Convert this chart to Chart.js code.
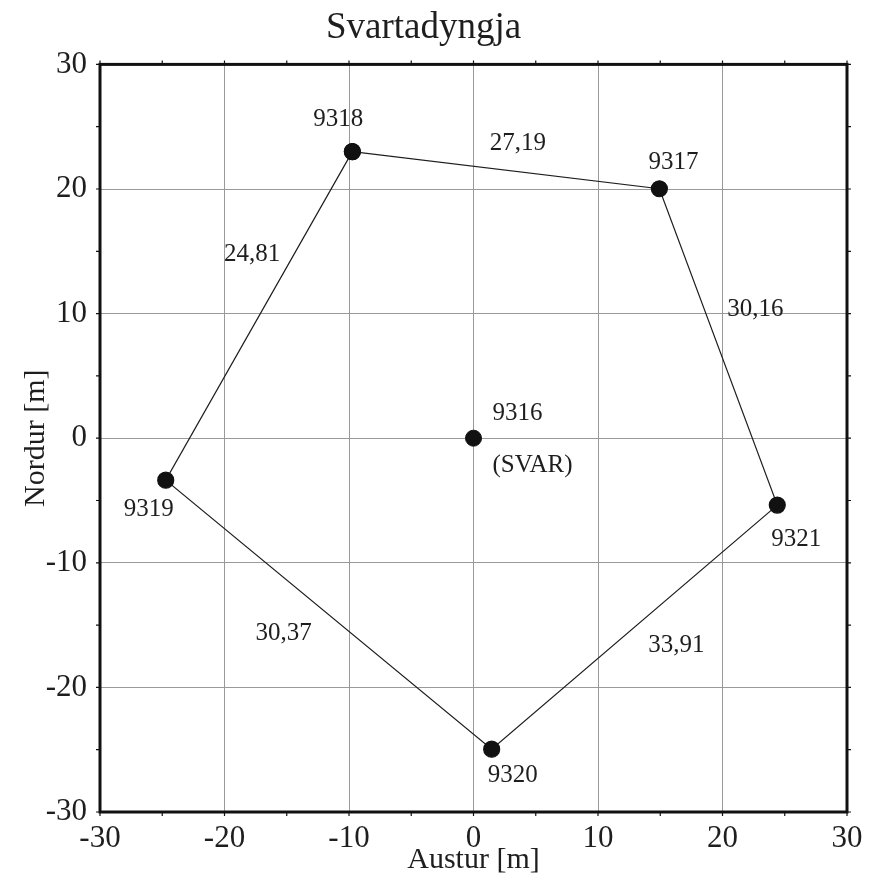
<!DOCTYPE html>
<html lang="is">
<head>
<meta charset="UTF-8">
<title>Svartadyngja</title>
<script src="https://cdn.jsdelivr.net/npm/chart.js"></script>
<style>body{margin:0;background:#fff}</style>
</head>
<body>
<div style="width:876px;height:880px;">
  <canvas id="chart" width="876" height="880"></canvas>
</div>
<script>
// stations, east / north in metres
const stations = ['9316', '9317', '9318', '9319', '9320', '9321'];
const east  = [0, 14.93, -9.73, -24.72, 1.46, 24.4];
const north = [0, 20.02, 23.0, -3.37, -24.96, -5.37];
// the ring around the centre point, closed
const ring = ['9318', '9317', '9321', '9320', '9319', '9318'];
// side lengths, in the same order as the ring
const sides = ['27,19', '30,16', '33,91', '30,37', '24,81'];
const centreName = '(SVAR)';

const pt = id => { const i = stations.indexOf(id); return {x: east[i], y: north[i]}; };

const serif = '"Liberation Serif", "DejaVu Serif", serif';
const ink = '#1e1e1e';

// pixel offsets of the text from its point / side midpoint
const nameOffset = {
    '9316': [19, -25, 'left'],
    '9317': [14, -26, 'center'],
    '9318': [-14, -32, 'center'],
    '9319': [-17, 29, 'center'],
    '9320': [21, 26, 'center'],
    '9321': [19, 34, 'center']
};
const sideOffset = [[12, -27], [37, -37], [42, 18], [-45, 19], [-7, -61]];

const labelPlugin = {
    id: 'labels',
    afterDatasetsDraw(chart) {
        const {ctx, scales: {x, y}} = chart;
        ctx.save();
        ctx.fillStyle = ink;
        ctx.font = '25px ' + serif;
        ctx.textBaseline = 'middle';
        stations.forEach((s, i) => {
            const [dx, dy, al] = nameOffset[s];
            ctx.textAlign = al;
            const px = x.getPixelForValue(east[i]), py = y.getPixelForValue(north[i]);
            ctx.fillText(s, px + dx, py + dy);
            if (i === 0) ctx.fillText(centreName, px + dx, py + 27);
        });
        ctx.textAlign = 'center';
        sides.forEach((txt, i) => {
            const a = pt(ring[i]), b = pt(ring[i + 1]);
            const mx = (x.getPixelForValue(a.x) + x.getPixelForValue(b.x)) / 2;
            const my = (y.getPixelForValue(a.y) + y.getPixelForValue(b.y)) / 2;
            ctx.fillText(txt, mx + sideOffset[i][0], my + sideOffset[i][1]);
        });
        ctx.restore();
    }
};

// heavy frame with small outward ticks every 5 m
const framePlugin = {
    id: 'frame',
    beforeDatasetsDraw(chart) {
        const {ctx, chartArea: a, scales: {x, y}} = chart;
        ctx.save();
        ctx.strokeStyle = '#111';
        ctx.lineWidth = 1.2;
        ctx.beginPath();
        for (let v = -30; v <= 30; v += 5) {
            const px = x.getPixelForValue(v), py = y.getPixelForValue(v);
            ctx.moveTo(px, a.top); ctx.lineTo(px, a.top - 4);
            ctx.moveTo(px, a.bottom); ctx.lineTo(px, a.bottom + 4);
            ctx.moveTo(a.left, py); ctx.lineTo(a.left - 4, py);
            ctx.moveTo(a.right, py); ctx.lineTo(a.right + 4, py);
        }
        ctx.stroke();
        ctx.lineWidth = 3;
        ctx.strokeRect(a.left, a.top, a.right - a.left, a.bottom - a.top);
        ctx.restore();
    }
};

const ctx = document.getElementById('chart').getContext('2d');
new Chart(ctx, {
    type: 'scatter',
    data: {
        datasets: [{
            data: ring.map(pt),
            showLine: true,
            borderColor: ink,
            borderWidth: 1.2,
            pointRadius: 8,
            pointBackgroundColor: '#111',
            pointBorderColor: '#111'
        }, {
            data: [pt('9316')],
            pointRadius: 8,
            pointBackgroundColor: '#111',
            pointBorderColor: '#111'
        }]
    },
    options: {
        responsive: false,
        animation: false,
        layout: { padding: { left: 0, right: 29, top: 0, bottom: 0 } },
        plugins: {
            legend: { display: false },
            tooltip: { enabled: false },
            title: {
                display: true,
                text: 'Svartadyngja',
                color: ink,
                font: { family: serif, size: 37, weight: 'normal' },
                padding: { top: 6, bottom: 14 }
            }
        },
        scales: {
            x: {
                type: 'linear',
                min: -30, max: 30,
                ticks: { stepSize: 10, padding: 8, color: ink, font: { family: serif, size: 31 } },
                grid: { color: '#9a9a9a', lineWidth: 1, drawTicks: false },
                border: { display: false },
                title: {
                    display: true, text: 'Austur [m]', color: ink,
                    font: { family: serif, size: 30 },
                    padding: { top: 0, bottom: 2 }
                },
                afterFit: s => { s.height = 68; }
            },
            y: {
                type: 'linear',
                min: -30, max: 30,
                ticks: { stepSize: 10, padding: 13, color: ink, font: { family: serif, size: 31 } },
                grid: { color: '#9a9a9a', lineWidth: 1, drawTicks: false },
                border: { display: false },
                title: {
                    display: true, text: 'Nordur [m]', color: ink,
                    font: { family: serif, size: 30 },
                    padding: { top: 18, bottom: 0 }
                },
                afterFit: s => { s.width = 100; }
            }
        }
    },
    plugins: [framePlugin, labelPlugin]
});
</script>
</body>
</html>
